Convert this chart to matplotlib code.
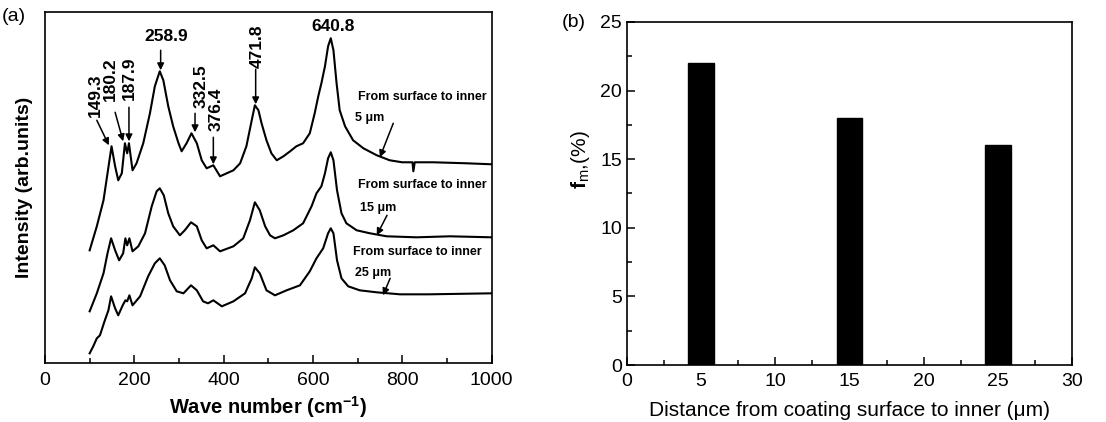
import matplotlib
matplotlib.use("Agg")
import matplotlib.pyplot as plt
from matplotlib.ticker import MultipleLocator

plt.rcParams['font.family'] = ['Liberation Sans', 'DejaVu Sans']
plt.rcParams['mathtext.fontset'] = 'custom'
plt.rcParams['mathtext.rm'] = 'Liberation Sans'
plt.rcParams['mathtext.bf'] = 'Liberation Sans:bold'

# Raman spectra at three depths (arbitrary intensity units)
wn_5 = [100, 116, 131, 140, 149, 157, 164, 172, 179, 184, 188, 196, 205, 220, 235, 246,
        257, 265, 276, 287, 299, 306, 317, 328, 340, 351, 362, 377, 392, 407, 422, 437,
        451, 463, 470, 478, 485, 496, 507, 519, 534, 549, 563, 578, 593, 604, 612, 619,
        627, 634, 640, 646, 653, 660, 672, 690, 713, 743, 772, 800, 823, 825, 828, 869,
        944, 1000]
int_5 = [113, 137, 163, 190, 217, 197, 183, 190, 220, 210, 220, 193, 200, 220, 250, 277,
         292, 283, 257, 237, 220, 212, 220, 230, 220, 203, 195, 198, 187, 190, 193, 200,
         217, 243, 258, 253, 240, 223, 210, 203, 207, 212, 217, 220, 230, 250, 267, 280,
         297, 317, 325, 313, 280, 253, 237, 223, 215, 208, 203, 201, 201, 192, 201, 201,
         200, 199]

wn_15 = [100, 116, 131, 140, 148, 157, 166, 175, 180, 184, 189, 196, 209, 224, 239, 250,
         257, 266, 276, 287, 302, 313, 327, 340, 351, 362, 377, 392, 422, 444, 459, 470,
         481, 493, 504, 515, 534, 556, 578, 597, 608, 619, 627, 634, 640, 646, 654, 664,
         675, 698, 728, 765, 832, 907, 1000]
int_15 = [52, 70, 90, 110, 125, 113, 103, 110, 125, 118, 125, 112, 117, 130, 157, 172,
          175, 168, 150, 137, 128, 133, 141, 137, 123, 115, 118, 112, 117, 125, 143, 161,
          153, 137, 128, 125, 128, 133, 140, 157, 170, 177, 190, 205, 211, 203, 173, 150,
          140, 133, 130, 127, 126, 127, 126]

wn_25 = [100, 108, 116, 123, 134, 142, 148, 157, 164, 174, 180, 184, 189, 196, 213, 231,
         246, 257, 268, 280, 295, 310, 327, 340, 354, 365, 377, 396, 422, 448, 463, 470,
         481, 496, 515, 541, 571, 593, 608, 623, 634, 640, 646, 654, 664, 679, 705, 743,
         795, 860, 1000]
int_25 = [10, 17, 25, 28, 43, 53, 67, 55, 48, 58, 63, 62, 68, 58, 67, 87,
          100, 105, 98, 83, 72, 70, 78, 73, 62, 60, 63, 57, 62, 70, 85, 96,
          90, 73, 68, 73, 78, 92, 105, 115, 130, 135, 130, 103, 85, 77, 73, 71,
          69, 69, 70]

# monoclinic fraction vs depth
depth = [5, 15, 25]
fm = [22, 18, 16]

fig = plt.figure(figsize=(11.06, 4.22), dpi=100)
ax1 = fig.add_axes([0.0407, 0.139, 0.4037, 0.832])
ax2 = fig.add_axes([0.5669, 0.135, 0.4024, 0.813])

for a in (ax1, ax2):
    for s in a.spines.values():
        s.set_linewidth(1.2)

# ---- (a) Raman spectra ----
for wn, inten in [(wn_5, int_5), (wn_15, int_15), (wn_25, int_25)]:
    ax1.plot(wn, inten, color='black', lw=1.5)

ax1.set_xlim(0, 1000)
ax1.set_ylim(0, 351)
ax1.xaxis.set_major_locator(MultipleLocator(200))
ax1.xaxis.set_minor_locator(MultipleLocator(100))
ax1.tick_params(axis='x', which='both', direction='in', labelsize=14, pad=6)
ax1.tick_params(axis='x', which='major', length=6, width=1.1)
ax1.tick_params(axis='x', which='minor', length=3.5, width=1.1)
ax1.set_yticks([])
ax1.set_xlabel(r'Wave number (cm$^{\mathbf{-1}}$)', fontsize=14.5, fontweight='bold', labelpad=4)
ax1.set_ylabel('Intensity (arb.units)', fontsize=14, fontweight='bold', labelpad=9)

arrow = dict(arrowstyle='-|>', color='black', lw=1.1, mutation_scale=10,
             shrinkA=0, shrinkB=0)
lbl = dict(fontsize=12.5, fontweight='bold', ha='center', va='center')

# peak labels: (text, text x, text y, rotation, arrow start, arrow tip)
peaks = [
    ('149.3', 112, 268, 90, (116, 243), (143, 218)),
    ('180.2', 146, 284, 90, (157, 251), (175, 222)),
    ('187.9', 190, 285, 90, (188, 256), (188, 222)),
    ('258.9', 271, 327, 0, (259, 313), (259, 293)),
    ('332.5', 349, 277, 90, (336, 250), (336, 231)),
    ('376.4', 384, 254, 90, (377, 226), (377, 199)),
    ('471.8', 476, 317, 90, (471.8, 294), (471.8, 259)),
]
for txt, tx, ty, rot, p0, p1 in peaks:
    ax1.text(tx, ty, txt, rotation=rot, **lbl)
    ax1.annotate('', xy=p1, xytext=p0, arrowprops=arrow)
ax1.text(645, 337, '640.8', **lbl)

# depth captions
cap = dict(fontsize=9, fontweight='bold', ha='center', va='center')
ax1.text(844, 266, 'From surface to inner', **cap)
ax1.text(728, 245, '5 μm', **cap)
ax1.annotate('', xy=(750, 206), xytext=(780, 240), arrowprops=arrow)
ax1.text(844, 178, 'From surface to inner', **cap)
ax1.text(746, 155, '15 μm', **cap)
ax1.annotate('', xy=(743, 128), xytext=(766, 148), arrowprops=arrow)
ax1.text(834, 111, 'From surface to inner', **cap)
ax1.text(735, 90, '25 μm', **cap)
ax1.annotate('', xy=(757, 68), xytext=(773, 85), arrowprops=arrow)

fig.text(0.002, 0.95, '(a)', fontsize=14)

# ---- (b) bar chart ----
ax2.bar(depth, fm, width=1.73, color='black', edgecolor='black', zorder=3)
ax2.set_xlim(0, 30)
ax2.set_ylim(0, 25)
ax2.xaxis.set_major_locator(MultipleLocator(5))
ax2.xaxis.set_minor_locator(MultipleLocator(2.5))
ax2.yaxis.set_major_locator(MultipleLocator(5))
ax2.yaxis.set_minor_locator(MultipleLocator(2.5))
ax2.tick_params(which='both', direction='in', labelsize=14, width=1.1)
ax2.tick_params(which='major', length=6)
ax2.tick_params(which='minor', length=3.5)
ax2.tick_params(axis='x', pad=6)
ax2.set_xlabel('Distance from coating surface to inner (μm)', fontsize=15, labelpad=8)
ax2.set_ylabel(r'$\mathbf{f}_{\mathrm{m}}$,(%)', fontsize=15)
ax2.yaxis.set_label_coords(-0.078, 0.6)

fig.text(0.508, 0.935, '(b)', fontsize=14)

fig.savefig('out.png', dpi=100)
